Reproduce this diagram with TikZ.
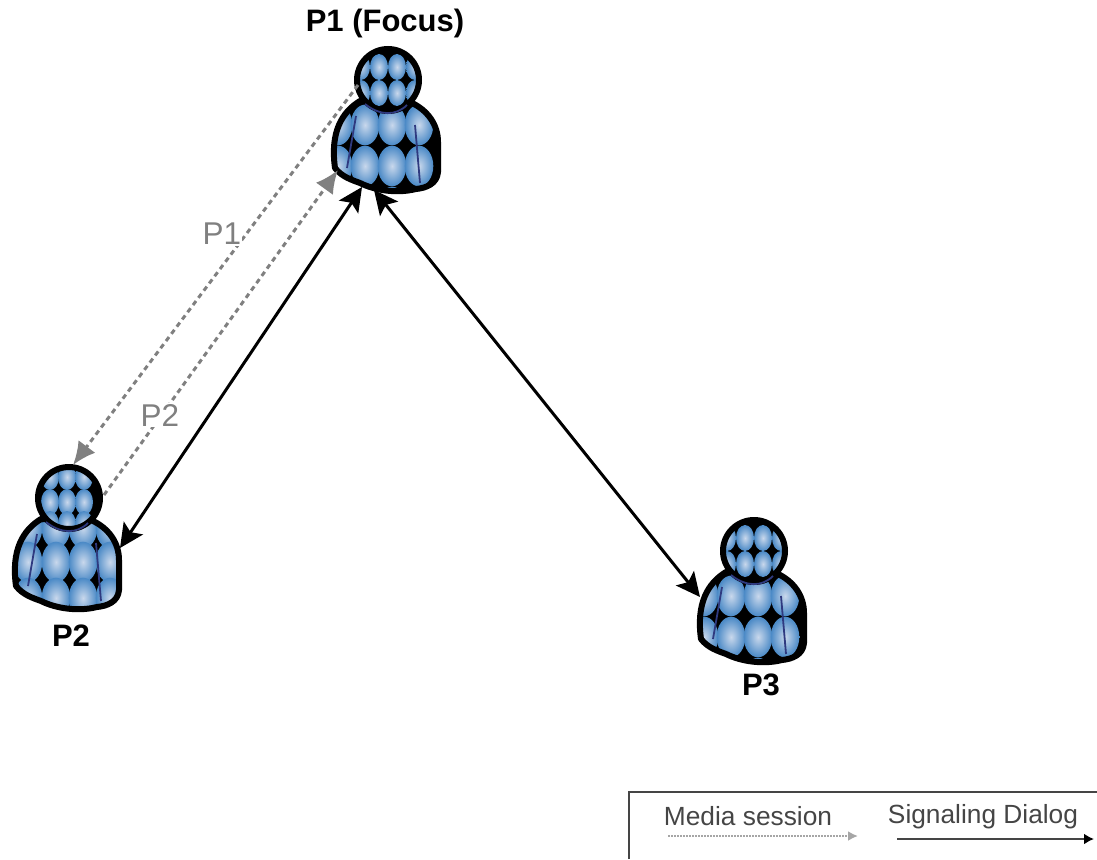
\documentclass[tikz,border=0pt]{standalone}
\usepackage{fontspec}
\setmainfont{Liberation Sans}
\usetikzlibrary{arrows.meta}

\definecolor{ballLight}{HTML}{C9D8EC}
\definecolor{ballBlue}{HTML}{4A89C6}
\definecolor{seam}{HTML}{2F3A80}
\definecolor{mediaGrey}{HTML}{808080}
\definecolor{legendGrey}{HTML}{454545}
\tikzset{
  ballfill/.style={inner color=ballLight,outer color=ballBlue,draw=none},
  personname/.style={font=\fontsize{31}{31}\selectfont\bfseries,text=black},
  sdplabel/.style={font=\fontsize{31.5}{31}\selectfont,text=mediaGrey,fill=white,inner sep=1pt},
  legendtext/.style={font=\fontsize{26.3}{26}\selectfont,text=legendGrey,inner sep=0pt},
  signalarrow/.style={line width=3pt,black,{Stealth[length=24pt,width=23pt,inset=5pt]}-{Stealth[length=24pt,width=23pt,inset=5pt]}},
  mediaarrow/.style={line width=3pt,mediaGrey,dash pattern=on 5pt off 4pt,-{Latex[length=23pt,width=21pt]}},
}

% person icon: position, balls of the head, balls of the body
\newcommand{\person}[3]{%
  \begin{scope}[shift={#1}]
    \def\bodypath{(-53,88) .. controls (-58,52) and (-46,32) .. (-28,21) -- (22,22)
      .. controls (40,30) and (50,45) .. (50,62) -- (50,92)
      .. controls (49,104) and (38,108) .. (28,109)
      .. controls (8,114) and (-14,110) .. (-28,103) .. controls (-36,100) and (-46,97) .. (-53,88) -- cycle}
    \begin{scope}
      \clip \bodypath;
      \fill[black] (-60,10) rectangle (60,120);
      \foreach \ex/\ey in {#3} {
        \shade[ballfill] (\ex,\ey) ellipse [x radius=14.3,y radius=20.3];
      }
    \end{scope}
    \draw[black,line width=6pt,line join=round] \bodypath;
    \draw[seam,line width=1.8pt] (-32,36) -- (-41,88);
    \draw[seam,line width=1.8pt] (27,45) -- (32,103);
    \begin{scope}
      \clip (0,0) circle (31);
      \fill[black] (0,0) circle (31);
      \foreach \ex/\ey in {#2} {
        \shade[ballfill] (\ex,\ey) ellipse [x radius=9,y radius=13];
      }
    \end{scope}
    \draw[black,line width=6pt] (0,0) circle (31);
    \draw[seam,line width=1.8pt] (-23,24) .. controls (-8,36) and (8,36) .. (19,25);
  \end{scope}
}

\begin{document}
\begin{tikzpicture}[x=1pt,y=-1pt]
  \useasboundingbox (0,0) rectangle (1097,859);

  % Draw the three persons
  \person{(388,80)}{-27/-13,-9/-13,9/-13,27/-13,-27/13,-9/13,9/13,27/13}
    {-23/4,4/4,31/4,-50/45,-23/45,4/45,31/45,-50/86,-23/86,4/86,31/86,-23/127,4/127,31/127}
  \person{(69,498)}{-19/-21,-2/-21,15/-21,-19/4,-2/4,15/4,-19/26,-2/26,15/26}
    {-41/30,-13/30,14/30,41/30,-41/64,-13/64,14/64,41/64,-41/100,-13/100,14/100,41/100}
  \person{(754,551)}{-27/-13,-9/-13,9/-13,27/-13,-27/13,-9/13,9/13,27/13}
    {-23/4,4/4,31/4,-50/45,-23/45,4/45,31/45,-50/86,-23/86,4/86,31/86,-23/127,4/127,31/127}

  \node[personname] (nameA) at (385,23) {P1 (Focus)};
  \node[personname] (nameB) at (71,636) {P2};
  \node[personname] (nameC) at (761,685) {P3};

  % Ends of the connectors
  \coordinate (aLeft) at (362,187);
  \coordinate (aRight) at (374,190);
  \coordinate (aHead) at (358,85);
  \coordinate (aBody) at (338,170);
  \coordinate (bBody) at (120,548);
  \coordinate (bTop) at (73,465);
  \coordinate (bHead) at (104,495);
  \coordinate (cBody) at (700,597);

  % Signaling
  \draw[signalarrow] (aLeft) -- (bBody);
  \draw[signalarrow] (aRight) -- (cBody);

  % Media
  \draw[mediaarrow] (aHead) -- (bTop);
  \draw[mediaarrow] (bHead) -- (aBody);
  \node[sdplabel] (labelA) at (222,234) {P1};
  \node[sdplabel] (labelB) at (160,415) {P2};

  % LEGEND
  \draw[legendGrey,line width=2.5pt] (629,859) -- (629,792) -- (1097,792);
  \node[legendtext] (mediaText) at (748,816) {Media session};
  \node[legendtext] (signalText) at (983,817) {Signaling Dialog};
  \coordinate (mediaFrom) at (668,836);
  \coordinate (mediaTo) at (858,836);
  \coordinate (signalFrom) at (897,839);
  \coordinate (signalTo) at (1094,839);
  \draw[mediaGrey!70,line width=2.5pt,dash pattern=on 2pt off 1pt,-{Latex[length=10pt,width=10pt]}] (mediaFrom) -- (mediaTo);
  \draw[legendGrey,line width=2.5pt,-{Latex[length=10pt,width=11pt,black]}] (signalFrom) -- (signalTo);
\end{tikzpicture}
\end{document}
